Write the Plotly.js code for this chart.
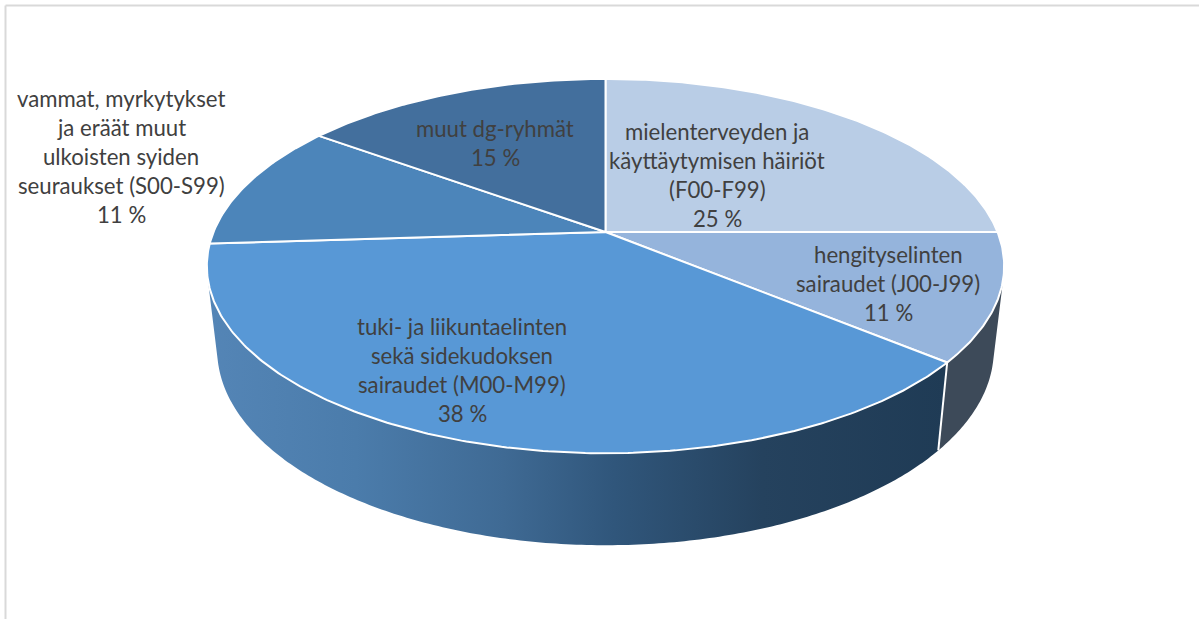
<!DOCTYPE html>
<html>
<head>
<meta charset="utf-8">
<script src="https://cdn.plot.ly/plotly-3.0.1.min.js"></script>
<style>html,body{margin:0;padding:0;background:#fff}#chart{width:1199px;height:619px}</style>
</head>
<body>
<div id="chart"></div>
<script>
// Sickness-absence shares by diagnosis group, clockwise from twelve o'clock
const categories = [
  "mielenterveyden ja käyttäytymisen häiriöt (F00-F99)",
  "hengityselinten sairaudet (J00-J99)",
  "tuki- ja liikuntaelinten sekä sidekudoksen sairaudet (M00-M99)",
  "vammat, myrkytykset ja eräät muut ulkoisten syiden seuraukset (S00-S99)",
  "muut dg-ryhmät"
];
const shares = [25, 11, 38, 11, 15];
const labelLines = [
  ["mielenterveyden ja", "käyttäytymisen häiriöt", "(F00-F99)", "25 %"],
  ["hengityselinten", "sairaudet (J00-J99)", "11 %"],
  ["tuki- ja liikuntaelinten", "sekä sidekudoksen", "sairaudet (M00-M99)", "38 %"],
  ["vammat, myrkytykset", "ja eräät muut", "ulkoisten syiden", "seuraukset (S00-S99)", "11 %"],
  ["muut dg-ryhmät", "15 %"]
];

// Presentation
const topColors = ["#b9cde6", "#95b4dc", "#5898d6", "#4c85ba", "#436f9d"];
const labelCentres = [[717, 131], [888, 254], [462, 326], [121, 98], [495, 128]];
const labelLeading = 29.2;
const textColor = "#404040";

// Perspective projection of the unit disc onto the chart plane
const cx = 605.5, cy = 232, A = 392, B = 181, k = 0.182;
const project = t => {
  const u = Math.sin(t), v = Math.cos(t), w = 1 + k * v;
  return [cx + A * u / w, cy - B * v / w];
};
// Lower rim of the drum, derived from the upper rim
const drop = p => [cx + (p[0] - cx) * 0.974, 72 + 1.044 * p[1]];

const toAngle = pct => pct / 100 * 2 * Math.PI;
const arc = (a, b) => {
  const n = Math.max(2, Math.ceil(Math.abs(b - a) * 90));
  return Array.from({length: n + 1}, (_, i) => project(a + (b - a) * i / n));
};

let running = 0;
const bounds = shares.map(s => { const a = running; running += s; return [toAngle(a), toAngle(running)]; });

// Where the visible wall starts and ends on the rim
const silhouetteRight = toAngle(28.9);
const silhouetteLeft = toAngle(71.1);
const corner = bounds[1][1];

const wall = (a, b) => {
  const upper = arc(a, b);
  const lower = upper.map(drop).reverse();
  const pts = upper.concat(lower);
  pts.push(pts[0]);
  return {x: pts.map(p => p[0]), y: pts.map(p => p[1])};
};

const traces = [];

const wallA = wall(corner, silhouetteLeft);
traces.push({
  type: "scatter", mode: "none", hoverinfo: "skip", showlegend: false,
  x: wallA.x, y: wallA.y, fill: "toself",
  fillgradient: {
    type: "horizontal",
    colorscale: [[0, "#5485b6"], [0.2, "#4b7cab"], [0.4, "#3f6a94"], [0.55, "#30567b"], [0.75, "#25425e"], [1, "#1f3b55"]]
  }
});
const wallB = wall(silhouetteRight, corner);
traces.push({
  type: "scatter", mode: "none", hoverinfo: "skip", showlegend: false,
  x: wallB.x, y: wallB.y, fill: "toself", fillcolor: "#3d4a59"
});

// Seam between the two visible wall sections
const seamTop = project(corner), seamBottom = drop(seamTop);
traces.push({
  type: "scatter", mode: "lines", hoverinfo: "skip", showlegend: false,
  x: [seamTop[0], seamBottom[0]], y: [seamTop[1], seamBottom[1]],
  line: {color: "#ffffff", width: 2}
});

// Top faces
bounds.forEach((b, i) => {
  const rim = arc(b[0], b[1]);
  const pts = [[cx, cy]].concat(rim, [[cx, cy]]);
  traces.push({
    type: "scatter", mode: "lines", hoverinfo: "skip", showlegend: false,
    name: categories[i],
    x: pts.map(p => p[0]), y: pts.map(p => p[1]),
    fill: "toself", fillcolor: topColors[i],
    line: {color: "#ffffff", width: 2}
  });
});

const annotations = [];
labelLines.forEach((lines, i) => {
  lines.forEach((text, j) => {
    annotations.push({
      xref: "x", yref: "y", x: labelCentres[i][0], y: labelCentres[i][1] + j * labelLeading,
      text, showarrow: false, xanchor: "center", yanchor: "middle",
      font: {family: "Lato, sans-serif", size: 22.2, color: textColor}
    });
  });
});

const layout = {
  width: 1199, height: 619,
  margin: {l: 0, r: 0, t: 0, b: 0},
  paper_bgcolor: "#ffffff", plot_bgcolor: "#ffffff",
  showlegend: false,
  xaxis: {range: [0, 1199], visible: false, fixedrange: true},
  yaxis: {range: [619, 0], visible: false, fixedrange: true},
  annotations,
  shapes: [
    {type: "line", xref: "x", yref: "y", x0: 5.5, x1: 1199, y0: 5.5, y1: 5.5, line: {color: "#d9d9d9", width: 2}},
    {type: "line", xref: "x", yref: "y", x0: 5.5, x1: 5.5, y0: 5.5, y1: 619, line: {color: "#d9d9d9", width: 2}}
  ]
};

Plotly.newPlot("chart", traces, layout, {displayModeBar: false, staticPlot: true});
</script>
</body>
</html>
